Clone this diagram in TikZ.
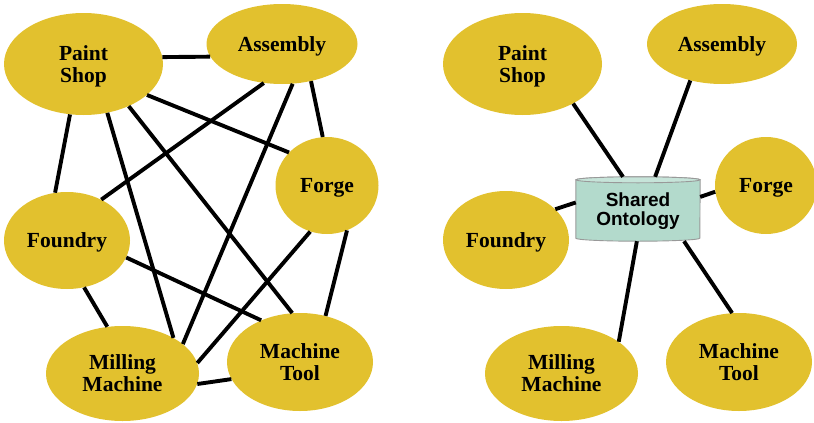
\documentclass[tikz,border=0pt]{standalone}
\usepackage{fontspec}
\setmainfont{Liberation Serif}
\newfontfamily\ontofont{Liberation Sans}
\usetikzlibrary{shapes.geometric, backgrounds}
\definecolor{shopgold}{RGB}{226,193,46}
\definecolor{ontofill}{RGB}{179,218,204}
\definecolor{ontotop}{RGB}{198,228,217}

\begin{document}
\begin{tikzpicture}[x=1pt, y=-1pt,
  dept/.style={ellipse, fill=shopgold, inner sep=0pt, align=center, text depth=0pt,
    font=\bfseries\fontsize{21.5}{22}\selectfont},
  link/.style={line width=3.9pt}]
\useasboundingbox (0,0) rectangle (814,423);

% every shop talks to every other shop
\node [dept, minimum width=159pt, minimum height=102pt] (paintL) at (83.5,64) {Paint\\Shop};
\node [dept, minimum width=151pt, minimum height=80pt] (assemblyL) at (282,44) {Assembly};
\node [dept, minimum width=103pt, minimum height=97pt] (forgeL) at (327,185.5) {Forge};
\node [dept, minimum width=126pt, minimum height=97pt] (foundryL) at (67,240.5) {Foundry};
\node [dept, minimum width=153pt, minimum height=95pt] (millingL) at (122.5,373.5) {Milling\\Machine};
\node [dept, minimum width=146pt, minimum height=98pt] (toolL) at (300,362) {Machine\\Tool};

\draw [link] (paintL.5) -- (assemblyL.-170);
\draw [link] (paintL.-105) -- (foundryL.104);
\draw [link] (paintL.-64) -- (millingL.35);
\draw [link] (paintL.-43) -- (toolL.99);
\draw [link] (paintL.-26) -- (forgeL.139);
\draw [link] (assemblyL.-115) -- (foundryL.50);
\draw [link] (assemblyL.-75) -- (millingL.26);
\draw [link] (assemblyL.-52) -- (forgeL.95);
\draw [link] (foundryL.-70) -- (millingL.108);
\draw [link] (foundryL.-16) -- (toolL.133);
\draw [link] (forgeL.-110) -- (millingL.8);
\draw [link] (forgeL.-66) -- (toolL.61);
\draw [link] (millingL.-8) -- (toolL.-166);

% the same shops around one ontology
\node [dept, minimum width=159pt, minimum height=102pt] (paintR) at (522.5,64) {Paint\\Shop};
\node [dept, minimum width=150pt, minimum height=80pt] (assemblyR) at (722,44) {Assembly};
\node [dept, minimum width=102pt, minimum height=97pt] (forgeR) at (766,185.5) {Forge};
\node [dept, minimum width=126pt, minimum height=98pt] (foundryR) at (506,240) {Foundry};
\node [dept, minimum width=153pt, minimum height=95pt] (millingR) at (561.5,373.5) {Milling\\Machine};
\node [dept, minimum width=146pt, minimum height=98pt] (toolR) at (739,362) {Machine\\Tool};

\node [minimum width=124pt, minimum height=64pt, inner sep=0pt, align=center, text depth=0pt,
  font=\ontofont\bfseries\fontsize{19}{19.5}\selectfont] (onto) at (638,209) {Shared\\Ontology};
\begin{scope}[on background layer]
\filldraw [fill=ontofill, draw=gray!80, line width=0.9pt]
  ([yshift=-3pt]onto.north west) -- ([yshift=3pt]onto.south west)
  arc [start angle=180, end angle=360, x radius=62pt, y radius=3pt]
  -- ([yshift=-3pt]onto.north east)
  arc [start angle=0, end angle=180, x radius=62pt, y radius=3pt] -- cycle;
\filldraw [fill=ontotop, draw=gray!80, line width=0.9pt]
  ([yshift=-3pt]onto.north) ellipse [x radius=62pt, y radius=3pt];
\end{scope}

\draw [link] (paintR.-38) -- (onto.115);
\draw [link] (assemblyR.-131) -- (onto.62);
\draw [link] (forgeR.187) -- (onto.11);
\draw [link] (foundryR.32) -- (onto.174);
\draw [link] (millingR.29) -- (onto.-92);
\draw [link] (toolR.98) -- (onto.-35);
\end{tikzpicture}
\end{document}
